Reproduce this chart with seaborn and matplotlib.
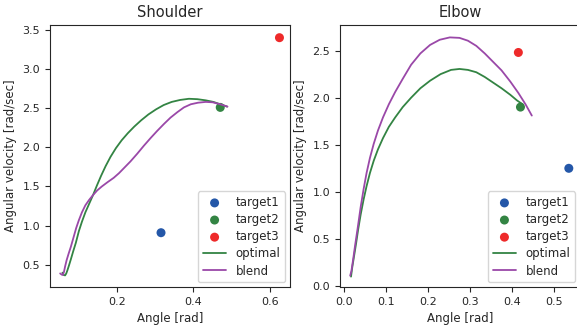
import matplotlib
matplotlib.use("Agg")
import matplotlib.pyplot as plt
import seaborn as sns
import pandas as pd

# targets (angle, angular velocity)
target_names = ["target1", "target2", "target3"]
target_colors = ["#2457a8", "#338443", "#ee2a2a"]
shoulder_tx = [0.315, 0.470, 0.625]
shoulder_ty = [0.91, 2.51, 3.40]
elbow_tx = [0.535, 0.420, 0.415]
elbow_ty = [1.25, 1.90, 2.48]

# shoulder trajectories
sh_opt_x = [0.057, 0.060, 0.064, 0.067, 0.070, 0.074, 0.079, 0.085, 0.092, 0.100, 0.108,
            0.117, 0.127, 0.137, 0.147, 0.158, 0.170, 0.183, 0.197, 0.212, 0.228, 0.245,
            0.263, 0.282, 0.302, 0.322, 0.343, 0.365, 0.388, 0.410, 0.432, 0.452, 0.470,
            0.488]
sh_opt_y = [0.40, 0.37, 0.365, 0.39, 0.43, 0.49, 0.57, 0.67, 0.78, 0.93, 1.05,
            1.17, 1.28, 1.39, 1.51, 1.635, 1.76, 1.88, 1.99, 2.09, 2.18, 2.265,
            2.345, 2.42, 2.485, 2.54, 2.58, 2.605, 2.62, 2.615, 2.60, 2.58, 2.55,
            2.52]
sh_bl_x = [0.051, 0.055, 0.058, 0.061, 0.064, 0.068, 0.073, 0.079, 0.086, 0.093, 0.100,
           0.108, 0.117, 0.127, 0.137, 0.148, 0.160, 0.175, 0.191, 0.205, 0.217, 0.235,
           0.253, 0.270, 0.288, 0.305, 0.323, 0.340, 0.358, 0.375, 0.393, 0.412, 0.432,
           0.450, 0.470, 0.489]
sh_bl_y = [0.39, 0.375, 0.37, 0.41, 0.48, 0.56, 0.64, 0.73, 0.85, 0.97, 1.07,
           1.17, 1.26, 1.33, 1.39, 1.45, 1.50, 1.555, 1.61, 1.67, 1.73, 1.82,
           1.92, 2.02, 2.12, 2.21, 2.30, 2.38, 2.45, 2.51, 2.55, 2.57, 2.58,
           2.575, 2.55, 2.52]

# elbow trajectories
el_opt_x = [0.017, 0.020, 0.024, 0.029, 0.034, 0.040, 0.047, 0.054, 0.062, 0.071,
            0.081, 0.093, 0.107, 0.122, 0.140, 0.160, 0.182, 0.205, 0.230, 0.255,
            0.275, 0.295, 0.315, 0.335, 0.355, 0.375, 0.396, 0.412, 0.425]
el_opt_y = [0.10, 0.20, 0.31, 0.45, 0.60, 0.76, 0.92, 1.06, 1.20, 1.33,
            1.45, 1.57, 1.69, 1.79, 1.90, 2.00, 2.10, 2.18, 2.25, 2.295,
            2.305, 2.295, 2.27, 2.22, 2.16, 2.10, 2.03, 1.97, 1.93]
el_bl_x = [0.015, 0.018, 0.022, 0.027, 0.033, 0.040, 0.047, 0.054, 0.062, 0.071,
           0.081, 0.093, 0.107, 0.122, 0.140, 0.160, 0.182, 0.205, 0.228, 0.252,
           0.275, 0.295, 0.315, 0.335, 0.355, 0.375, 0.396, 0.415, 0.432, 0.447]
el_bl_y = [0.11, 0.16, 0.28, 0.44, 0.62, 0.84, 1.03, 1.20, 1.36, 1.51,
           1.65, 1.79, 1.93, 2.06, 2.20, 2.35, 2.47, 2.56, 2.615, 2.64,
           2.635, 2.605, 2.55, 2.47, 2.38, 2.29, 2.17, 2.05, 1.93, 1.81]

optimal_color = "#338443"
blend_color = "#9a48a8"

sns.set_style("ticks")
plt.rcParams.update({
    "font.family": ["DejaVu Sans"],
    "xtick.major.size": 3.5,
    "ytick.major.size": 3.5,
    "xtick.labelsize": 8,
    "ytick.labelsize": 8,
    "axes.labelsize": 8.5,
    "axes.titlesize": 10.5,
    "legend.fontsize": 8.5,
})

fig, axes = plt.subplots(1, 2, figsize=(5.77, 3.31), dpi=100)
plt.subplots_adjust(left=0.0867, right=1.0052, top=0.924, bottom=0.133, wspace=0.207)


def draw(ax, tx, ty, ox, oy, bx, by, title):
    for name, col, x, y in zip(target_names, target_colors, tx, ty):
        sns.scatterplot(x=[x], y=[y], color=col, s=42, edgecolor="none", label=name, ax=ax)
    opt = pd.DataFrame({"x": ox, "y": oy})
    bl = pd.DataFrame({"x": bx, "y": by})
    sns.lineplot(data=opt, x="x", y="y", sort=False, estimator=None, color=optimal_color,
                 lw=1.3, label="optimal", ax=ax)
    sns.lineplot(data=bl, x="x", y="y", sort=False, estimator=None, color=blend_color,
                 lw=1.3, label="blend", ax=ax)
    ax.set_title(title)
    ax.set_xlabel("Angle [rad]")
    ax.set_ylabel("Angular velocity [rad/sec]")
    ax.legend(loc="lower right", labelspacing=0.35, borderaxespad=0.4)


draw(axes[0], shoulder_tx, shoulder_ty, sh_opt_x, sh_opt_y, sh_bl_x, sh_bl_y, "Shoulder")
axes[0].set_xlim(0.0245, 0.653)
axes[0].set_ylim(0.217, 3.56)
axes[0].set_xticks([0.2, 0.4, 0.6])
axes[0].set_yticks([0.5, 1.0, 1.5, 2.0, 2.5, 3.0, 3.5])

draw(axes[1], elbow_tx, elbow_ty, el_opt_x, el_opt_y, el_bl_x, el_bl_y, "Elbow")
axes[1].set_xlim(-0.0095, 0.5616)
axes[1].set_ylim(-0.01, 2.77)
axes[1].set_xticks([0.0, 0.1, 0.2, 0.3, 0.4, 0.5])
axes[1].set_yticks([0.0, 0.5, 1.0, 1.5, 2.0, 2.5])

fig.savefig("out.png", dpi=100)
